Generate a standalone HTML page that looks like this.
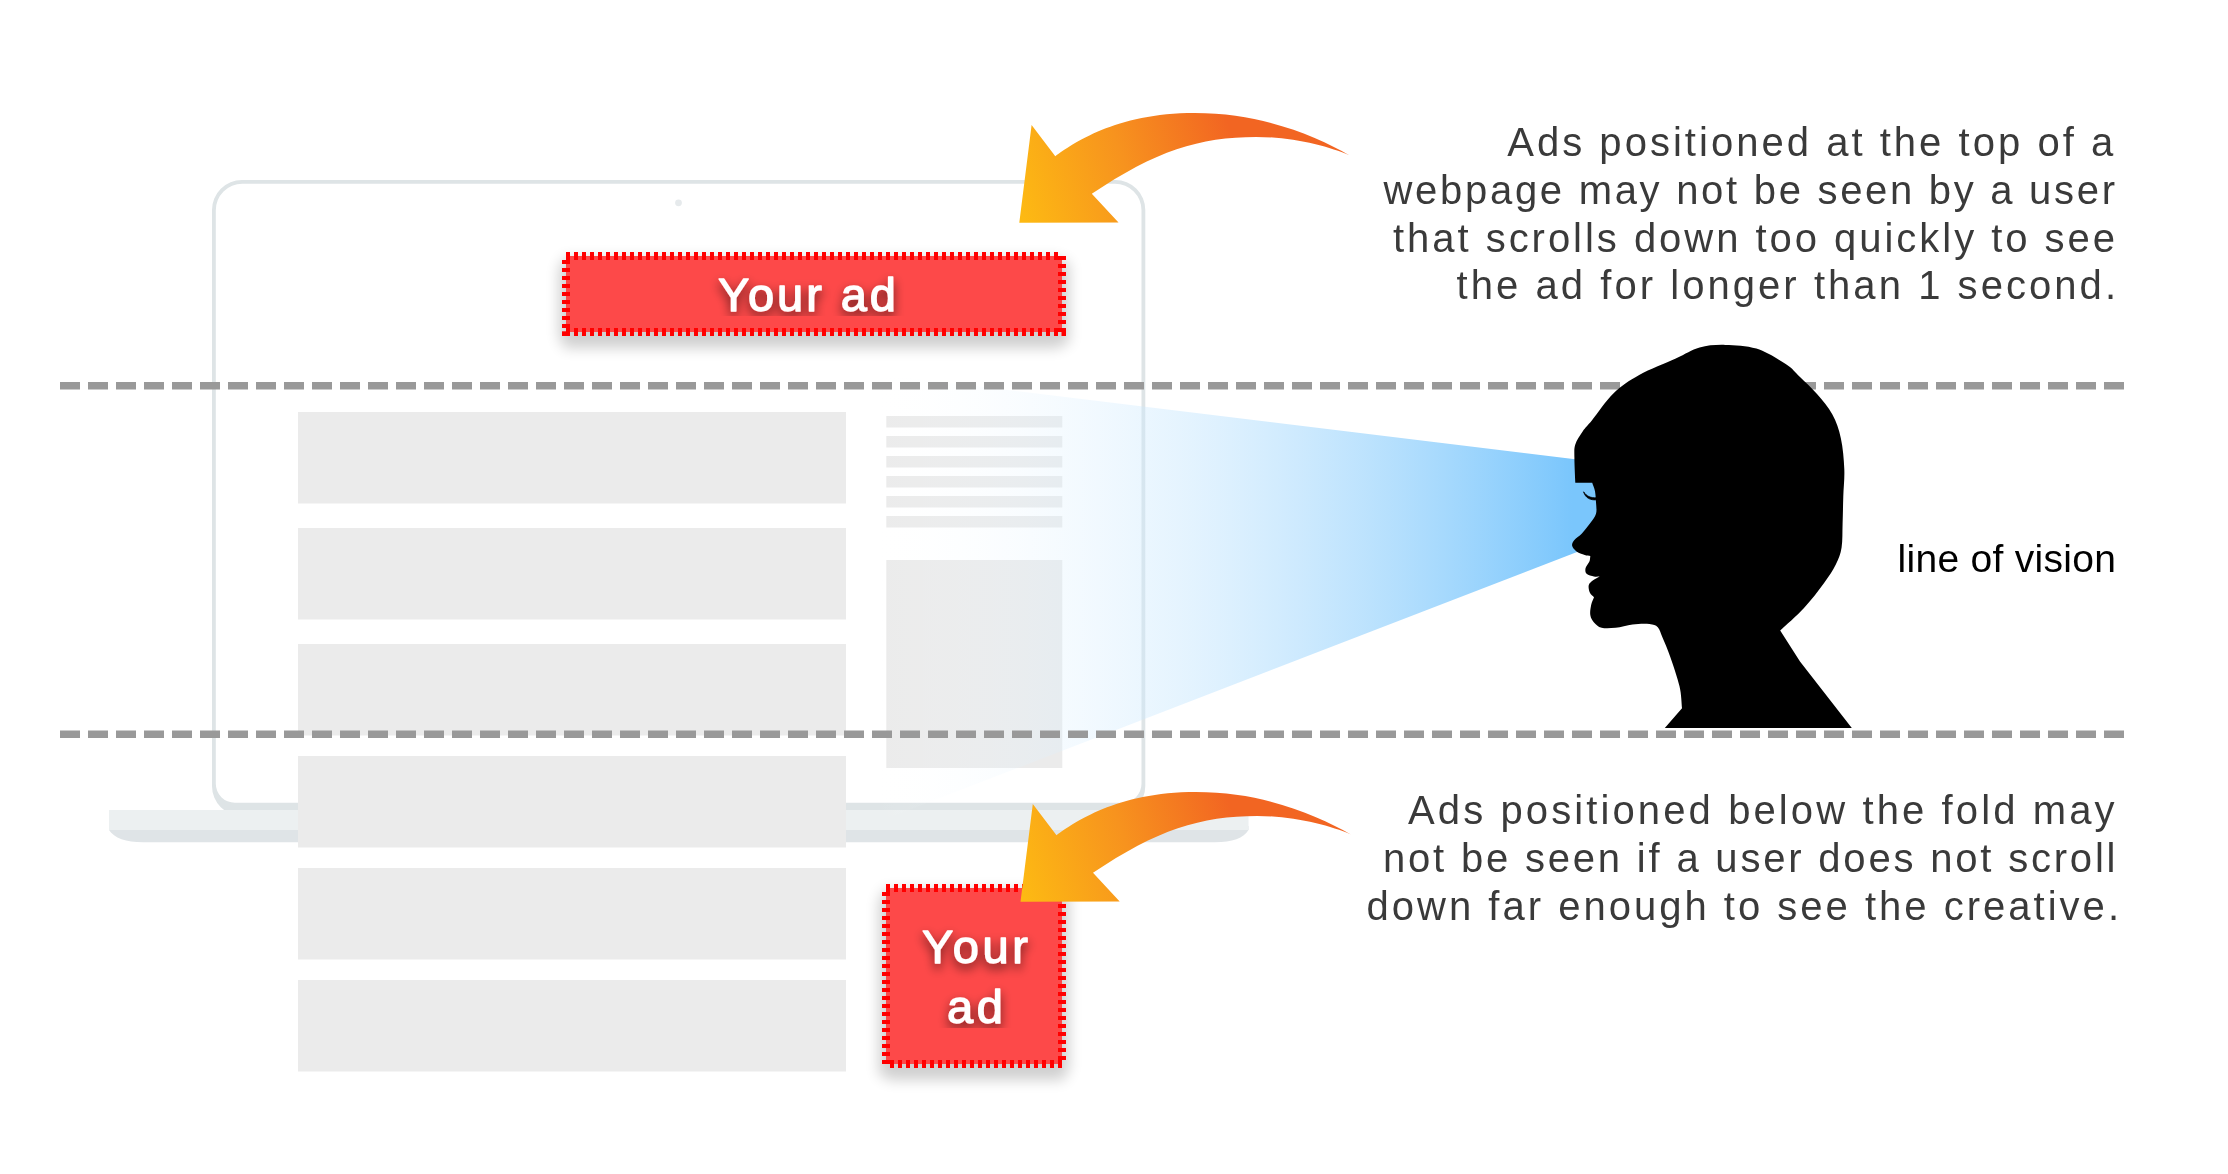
<!DOCTYPE html>
<html><head><meta charset="utf-8"><title>Ad viewability</title>
<style>
html,body{margin:0;padding:0;background:#fff;}
body{width:2228px;height:1174px;overflow:hidden;font-family:"Liberation Sans",sans-serif;}
svg{display:block;position:absolute;left:0;top:0;}
text{font-family:"Liberation Sans",sans-serif;}
</style></head><body>
<svg width="2228" height="1174" viewBox="0 0 2228 1174">
<defs>
<linearGradient id="ag" gradientUnits="userSpaceOnUse" x1="1019" y1="205" x2="1232" y2="135">
<stop offset="0" stop-color="#fdb913"/><stop offset="0.5" stop-color="#f7931e"/><stop offset="1" stop-color="#f26522"/>
</linearGradient>
<linearGradient id="cg" gradientUnits="userSpaceOnUse" x1="870" y1="0" x2="1572" y2="0"><stop offset="0" stop-color="#ffffff" stop-opacity="0"/><stop offset="1" stop-color="#7ac6fc" stop-opacity="1"/></linearGradient>
<filter id="sh" x="-20%" y="-40%" width="140%" height="200%">
<feMorphology in="SourceAlpha" operator="dilate" radius="3"/><feGaussianBlur stdDeviation="7"/><feOffset dx="0" dy="9"/>
<feComponentTransfer><feFuncA type="linear" slope="0.19"/></feComponentTransfer>
<feMerge><feMergeNode/><feMergeNode in="SourceGraphic"/></feMerge>
</filter>
<filter id="ts" filterUnits="userSpaceOnUse" x="600" y="240" width="420" height="76">
<feGaussianBlur in="SourceAlpha" stdDeviation="5.5"/><feOffset dx="0" dy="4.5"/>
<feComponentTransfer><feFuncA type="linear" slope="0.62"/></feComponentTransfer>
<feMerge><feMergeNode/><feMergeNode in="SourceGraphic"/></feMerge>
</filter>
<filter id="ts2" filterUnits="userSpaceOnUse" x="890" y="900" width="170" height="128">
<feGaussianBlur in="SourceAlpha" stdDeviation="5.5"/><feOffset dx="0" dy="4.5"/>
<feComponentTransfer><feFuncA type="linear" slope="0.62"/></feComponentTransfer>
<feMerge><feMergeNode/><feMergeNode in="SourceGraphic"/></feMerge>
</filter>
</defs>

<!-- laptop -->
<path fill="#dee4e6" fill-rule="evenodd" d="M242,180 H1115.3 A30,30 0 0 1 1145.3,210 V786 A30,30 0 0 1 1115.3,816 H242 A30,30 0 0 1 212,786 V210 A30,30 0 0 1 242,180Z
M242.3,183.7 A26.5,26.5 0 0 0 215.8,210.2 V783.8 A19,19 0 0 0 234.8,802.8 H1122.5 A19,19 0 0 0 1141.5,783.8 V210.2 A26.5,26.5 0 0 0 1115,183.7Z"/>
<circle cx="678.5" cy="202.8" r="3.4" fill="#e6eaec"/>
<path fill="#dfe4e7" d="M109,826 H1248.5 V830 C1244,838 1232,842.3 1215,842.3 H143 C126,842.3 114,838 109,830Z"/>
<rect x="109" y="810" width="1139.5" height="20" fill="#ecf0f1"/>

<!-- content -->
<g fill="#ebebeb"><rect x="298" y="412" width="548" height="91.5"/><rect x="298" y="528" width="548" height="91.5"/><rect x="298" y="644" width="548" height="91.5"/><rect x="298" y="756" width="548" height="91.5"/><rect x="298" y="868" width="548" height="91.5"/><rect x="298" y="980" width="548" height="91.5"/><rect x="886.3" y="416" width="176" height="11.5"/><rect x="886.3" y="436" width="176" height="11.5"/><rect x="886.3" y="456" width="176" height="11.5"/><rect x="886.3" y="476" width="176" height="11.5"/><rect x="886.3" y="496" width="176" height="11.5"/><rect x="886.3" y="516" width="176" height="11.5"/><rect x="886.3" y="560" width="176" height="208"/></g>

<!-- cone -->
<polygon points="1610,463.4 870,373.3 870,825 1590,547 1604,535 1610,500" fill="url(#cg)"/>

<!-- dashed lines -->
<g stroke="#999999" stroke-width="7.6" stroke-dasharray="20 8" fill="none">
<path d="M60,385.7 H2124"/><path d="M60,734.2 H2124"/>
</g>

<!-- ads -->
<g filter="url(#sh)"><path d="M566,256 h496 v76 h-496z" fill="#fd4949" stroke="#ff0000" stroke-width="8" stroke-dasharray="4 4"/></g>
<g filter="url(#sh)"><path d="M886,888 h176 v176 h-176z" fill="#fd4949" stroke="#ff0000" stroke-width="8" stroke-dasharray="4 4"/></g>
<rect x="562" y="331.3" width="4" height="4.7" fill="#ff0000"/><rect x="1061.5" y="332" width="4.5" height="4" fill="#ff0000"/>
<g fill="#fff" stroke="#fff" stroke-width="1.3" stroke-linejoin="round" font-size="47px" text-anchor="middle">
<g filter="url(#ts)"><text x="807" y="311.3" textLength="178" lengthAdjust="spacing">Your ad</text></g>
<g filter="url(#ts2)"><text x="975" y="963.3" textLength="106" lengthAdjust="spacing">Your</text>
<text x="975" y="1023.3" textLength="56" lengthAdjust="spacing">ad</text></g>
</g>

<!-- arrows -->
<path d="M1019.3,222.7 L1031.6,125 L1055.3,156.3 C1072.7,144.2 1114.8,113.1 1194.7,113.1 C1263.1,113.1 1316.2,136.4 1349.6,155.4 C1328.5,146.2 1292.2,136.9 1256,136.9 C1199.7,136.9 1155.6,150.7 1091.8,193.8 L1118.5,222.4Z" fill="url(#ag)"/>
<g transform="translate(1.2,679)"><path d="M1019.3,222.7 L1031.6,125 L1055.3,156.3 C1072.7,144.2 1114.8,113.1 1194.7,113.1 C1263.1,113.1 1316.2,136.4 1349.6,155.4 C1328.5,146.2 1292.2,136.9 1256,136.9 C1199.7,136.9 1155.6,150.7 1091.8,193.8 L1118.5,222.4Z" fill="url(#ag)"/></g>

<!-- head -->
<path d="M1575.3,482.8 C1575.1,477.2 1574.4,463.9 1574.4,457.5 C1574.4,451.1 1573.9,448.8 1575.3,444.4 C1576.7,440.0 1580.0,435.3 1582.8,431.2 C1585.6,427.2 1587.1,426.3 1592.2,420.0 C1597.3,413.7 1605.8,400.8 1613.6,393.3 C1621.4,385.8 1628.8,380.8 1639.2,375.0 C1649.6,369.2 1665.7,363.1 1675.8,358.5 C1685.9,353.9 1691.3,349.8 1699.6,347.5 C1707.8,345.2 1715.8,344.7 1725.3,344.9 C1734.8,345.1 1746.3,345.4 1756.4,348.6 C1766.5,351.8 1778.4,359.3 1785.7,364.0 C1793.0,368.7 1794.8,372.0 1800.0,377.0 C1805.2,382.0 1811.6,387.8 1817.0,394.0 C1822.4,400.2 1828.4,407.1 1832.4,414.5 C1836.4,421.9 1838.9,429.3 1840.9,438.4 C1842.9,447.5 1843.9,459.4 1844.3,469.0 C1844.7,478.6 1843.6,487.2 1843.3,496.3 C1843.0,505.4 1842.9,515.1 1842.6,523.6 C1842.3,532.1 1842.7,540.6 1841.6,547.4 C1840.5,554.2 1838.8,558.5 1835.8,564.5 C1832.8,570.5 1829.2,576.0 1823.9,583.2 C1818.6,590.5 1811.3,600.1 1804.0,608.0 C1796.7,615.9 1785.4,625.6 1780.2,630.6 L1800.0,661.6 L1851.8,728.0 L1664.8,728.0 L1682.0,708.3 C1681.5,703.5 1681.5,694.8 1679.5,686.3 C1677.5,677.8 1673.1,665.1 1670.3,657.0 C1667.5,648.9 1664.6,642.5 1662.5,637.5 C1660.4,632.5 1660.0,629.5 1657.8,627.2 C1655.6,625.0 1653.6,624.5 1649.4,624.0 C1645.2,623.5 1638.1,623.8 1632.5,624.4 C1626.9,625.0 1620.8,627.2 1615.6,627.8 C1610.4,628.3 1605.2,628.6 1601.6,627.8 C1598.0,626.9 1595.9,624.6 1594.0,622.5 C1592.1,620.4 1590.8,618.0 1590.3,615.0 C1589.8,612.0 1590.6,607.7 1591.2,604.7 C1591.9,601.7 1593.4,598.9 1594.0,597.2 C1593.1,596.2 1590.6,594.5 1589.8,592.5 C1588.9,590.5 1588.2,587.0 1588.8,585.0 C1589.4,583.0 1591.3,581.7 1593.1,580.3 C1594.9,578.9 1598.2,577.4 1599.7,576.6 C1598.4,576.6 1596.2,577.1 1594.0,576.6 C1591.8,576.1 1588.0,575.2 1586.6,573.8 C1585.2,572.3 1585.1,570.1 1585.6,568.1 C1586.1,566.1 1588.6,563.6 1589.4,561.6 C1590.2,559.6 1590.1,557.2 1590.3,555.9 C1589.1,555.7 1587.0,555.8 1584.7,555.0 C1582.4,554.2 1578.3,552.8 1576.2,551.2 C1574.2,549.7 1572.4,547.5 1572.1,545.6 C1571.8,543.7 1572.8,542.0 1574.4,540.0 C1576.0,538.0 1579.2,536.2 1581.9,533.4 C1584.6,530.6 1588.0,526.4 1590.3,523.1 C1592.6,519.8 1595.0,517.2 1596.0,513.8 C1597.0,510.3 1596.2,506.2 1596.0,502.5 C1595.8,498.8 1595.6,494.5 1595.0,491.2 C1594.4,488.0 1592.8,484.7 1592.2,482.8 L1575.3,482.8Z" fill="#000"/>
<path d="M1596.5,499.8 C1591,500.3 1585.5,498.5 1583.6,491.8 C1586.5,496.5 1591,498 1596.5,497.8Z" fill="#000" stroke="#000" stroke-width="0.8"/>

<!-- text -->
<g fill="#3a3a3a" font-size="40px" text-anchor="end" opacity="0.999">
<text x="2113.2" y="156" textLength="606" lengthAdjust="spacing">Ads positioned at the top of a</text>
<text x="2115" y="204" textLength="731.5" lengthAdjust="spacing">webpage may not be seen by a user</text>
<text x="2115" y="251.6" textLength="722" lengthAdjust="spacing">that scrolls down too quickly to see</text>
<text x="2116" y="299.4" textLength="659.5" lengthAdjust="spacing">the ad for longer than 1 second.</text>
<text x="2114.5" y="823.9" textLength="706.5" lengthAdjust="spacing">Ads positioned below the fold may</text>
<text x="2115.5" y="871.9" textLength="732.5" lengthAdjust="spacing">not be seen if a user does not scroll</text>
<text x="2119" y="919.8" textLength="752.5" lengthAdjust="spacing">down far enough to see the creative.</text>
</g>
<text x="2116" y="571.8" font-size="39px" fill="#000" text-anchor="end" textLength="218.5" lengthAdjust="spacing" opacity="0.999">line of vision</text>
</svg>
</body></html>
